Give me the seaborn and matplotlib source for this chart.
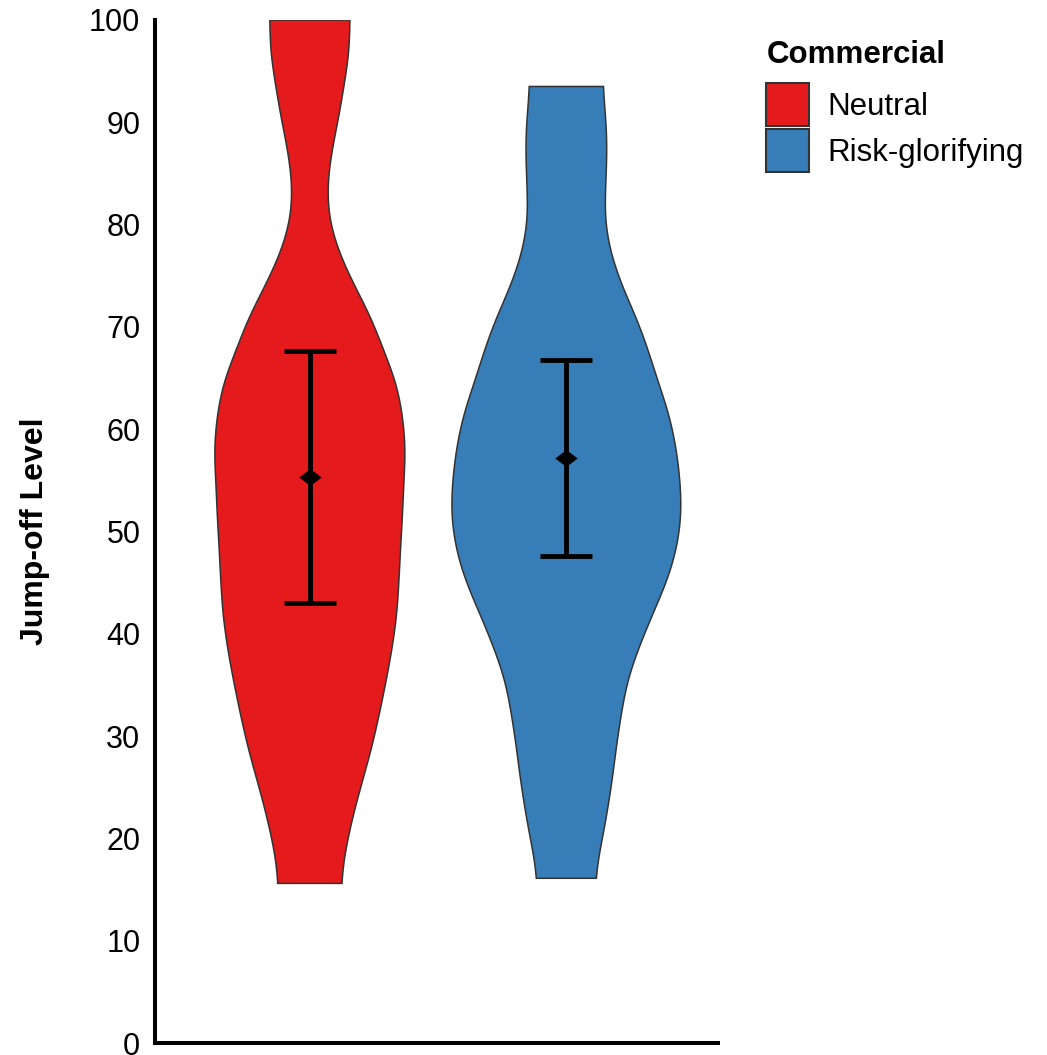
import numpy as np
import pandas as pd
import matplotlib
matplotlib.use("Agg")
import matplotlib.pyplot as plt
from matplotlib.patches import Patch
import seaborn as sns

# Groups and summary statistics (mean and standard deviation)
groups = ["Neutral", "Risk-glorifying"]
means = [55.3, 57.2]
sds = [12.3, 9.6]

# Violin outlines: jump-off level and half-width of the density at that level
neutral_level = [15.6, 18.5, 21.8, 25.1, 28.5, 31.9, 35.2, 38.4, 41.7, 44.9,
                 48.2, 51.4, 54.7, 58.0, 61.2, 64.5, 67.7, 71.0, 74.3, 77.5,
                 80.8, 84.0, 87.3, 90.5, 94.0, 97.0, 100.0]
neutral_width = [0.117, 0.136, 0.164, 0.199, 0.238, 0.269, 0.296, 0.320, 0.339, 0.347,
                 0.353, 0.361, 0.366, 0.374, 0.363, 0.339, 0.288, 0.238, 0.168, 0.109,
                 0.072, 0.068, 0.086, 0.113, 0.136, 0.155, 0.157]

risk_level = [16.1, 19.2, 22.5, 25.7, 29.0, 32.2, 35.5, 38.7, 42.0, 45.3,
              48.5, 51.8, 55.0, 58.3, 61.6, 64.8, 67.4, 70.7, 73.9, 77.2,
              80.5, 83.7, 87.0, 90.2, 93.5]
risk_width = [0.105, 0.135, 0.159, 0.179, 0.195, 0.214, 0.238, 0.283, 0.338, 0.396,
              0.433, 0.450, 0.444, 0.428, 0.400, 0.355, 0.324, 0.277, 0.218, 0.172,
              0.149, 0.153, 0.159, 0.156, 0.138]

y_ticks = [0, 10, 20, 30, 40, 50, 60, 70, 80, 90, 100]
legend_title = "Commercial"
y_label = "Jump-off Level"

summary = pd.DataFrame({"Commercial": groups, "pos": [0, 1],
                        "mean": means, "sd": sds})
outlines = [(neutral_level, neutral_width), (risk_level, risk_width)]


def smooth_outline(level, width, step=0.05, sigma=1.6):
    """Smooth a violin half-width profile with a Gaussian kernel."""
    ys = np.arange(level[0], level[-1] + step / 2, step)
    ws = np.interp(ys, level, width)
    offs = np.arange(-4 * sigma, 4 * sigma + step / 2, step)
    kern = np.exp(-0.5 * (offs / sigma) ** 2)
    num = np.convolve(ws, kern, mode="same")
    den = np.convolve(np.ones_like(ws), kern, mode="same")
    return ys, num / den


sns.set_theme(style="white")
plt.rcParams["font.family"] = ["Liberation Sans", "DejaVu Sans"]
plt.rcParams["text.color"] = "black"
plt.rcParams["axes.labelcolor"] = "black"
plt.rcParams["ytick.color"] = "black"
palette = sns.color_palette("Set1", 2)

fig = plt.figure(figsize=(10.47, 10.55), dpi=100)
ax = fig.add_axes([0.1480, 0.01137, 0.5377, 0.9697])

# Violins
for (level, width), pos, color in zip(outlines, summary["pos"], palette):
    ys, ws = smooth_outline(level, width)
    xs = np.concatenate([pos - ws, (pos + ws)[::-1]])
    yy = np.concatenate([ys, ys[::-1]])
    ax.fill(xs, yy, facecolor=color, edgecolor="#333333", linewidth=1.1,
            joinstyle="miter", zorder=2)

# Mean +/- SD
ax.errorbar(summary["pos"], summary["mean"], yerr=summary["sd"], fmt="none",
            ecolor="black", elinewidth=3.5, capsize=19, capthick=3.5, zorder=3)
diamond = [(-1.0, 0.0), (0.0, 0.76), (1.0, 0.0), (0.0, -0.76), (-1.0, 0.0)]
sns.scatterplot(data=summary, x="pos", y="mean", marker=diamond, s=260,
                color="black", linewidth=0, legend=False, zorder=4, ax=ax)

ax.set_xlim(-0.604, 1.591)
ax.set_ylim(0, 100)
ax.set_yticks(y_ticks)
ax.set_xticks([])
ax.set_xlabel("")
ax.tick_params(axis="y", length=0, pad=10.5, labelsize=22, labelcolor="black")
ax.set_ylabel(y_label, fontsize=23, fontweight="bold", color="black")
ax.yaxis.set_label_coords(-0.186, 0.5)

sns.despine(ax=ax)
for side in ("left", "bottom"):
    ax.spines[side].set_color("black")
    ax.spines[side].set_linewidth(2.9)
    ax.spines[side].set_capstyle("projecting")

# Legend
fig.text(767 / 1047, 1 - 63 / 1055, legend_title, fontsize=22.5,
         fontweight="bold", color="black", ha="left", va="baseline")
handles = [Patch(facecolor=c, edgecolor="#333333", linewidth=1.5) for c in palette]
ax.legend(handles, groups, loc="upper left",
          bbox_to_anchor=(766 / 1047, 1 - 83 / 1055), bbox_transform=fig.transFigure,
          frameon=False, fontsize=22.5,
          handlelength=1.37, handleheight=1.74, handletextpad=0.6,
          labelspacing=0.1, borderpad=0, borderaxespad=0)

fig.savefig("out.png", dpi=100)
